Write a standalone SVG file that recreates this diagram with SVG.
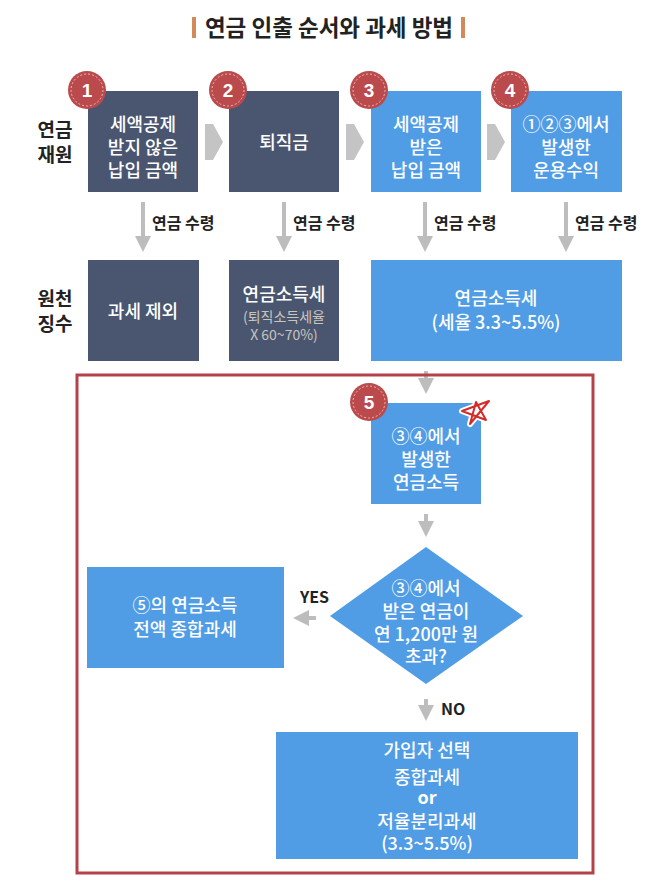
<svg xmlns="http://www.w3.org/2000/svg" width="658" height="883" viewBox="0 0 658 883">
<defs>
<style>
text{font-family:"Noto Sans CJK KR","Noto Sans",sans-serif;}
.dark{fill:#4a5670;}
.blue{fill:#509de5;}
.bt{fill:#ffffff;font-size:18px;font-weight:500;text-anchor:middle;}
.lbl{fill:#222;font-size:19px;font-weight:bold;text-anchor:middle;}
.small{fill:#222;font-size:16px;font-weight:bold;}
.conn{stroke:#bdbdbd;stroke-width:4;fill:none;}
.badge{fill:#bb4a4c;}
.bin{fill:none;stroke:#e9b7b7;stroke-width:1;stroke-dasharray:2 2;}
.bn{fill:#fff;font-size:19px;font-weight:bold;text-anchor:middle;font-family:"Liberation Sans",sans-serif;}
</style>
<marker id="ah" markerWidth="4" markerHeight="4" refX="2" refY="2" orient="auto" markerUnits="strokeWidth"><path d="M0,0 L4,2 L0,4 Z" fill="#bdbdbd"/></marker>
</defs>
<rect width="658" height="883" fill="#fff"/>
<g id="title">
<rect x="192" y="17" width="4" height="21" fill="#d08a5c"/>
<rect x="461" y="17" width="4" height="21" fill="#d08a5c"/>
<text x="329" y="36" text-anchor="middle" font-size="22.5" font-weight="bold" fill="#222">연금 인출 순서와 과세 방법</text>
</g>
<g id="rowlabels">
<text class="lbl" x="55" y="137">연금</text>
<text class="lbl" x="55" y="162">재원</text>
<text class="lbl" x="55" y="306">원천</text>
<text class="lbl" x="55" y="331">징수</text>
</g>
<g id="connectors">
<path d="M205,124 H213 L223,142 L213,160 H205 Z" fill="#c4c4c4"/>
<path d="M346,124 H354 L364,142 L354,160 H346 Z" fill="#c4c4c4"/>
<path d="M487,124 H495 L505,142 L495,160 H487 Z" fill="#c4c4c4"/>
<line class="conn" x1="143" y1="202" x2="143" y2="244" marker-end="url(#ah)"/>
<line class="conn" x1="284" y1="202" x2="284" y2="244" marker-end="url(#ah)"/>
<line class="conn" x1="425" y1="202" x2="425" y2="244" marker-end="url(#ah)"/>
<line class="conn" x1="566" y1="202" x2="566" y2="244" marker-end="url(#ah)"/>
<text class="small" x="152" y="229">연금 수령</text>
<text class="small" x="293" y="229">연금 수령</text>
<text class="small" x="434" y="229">연금 수령</text>
<text class="small" x="575" y="229">연금 수령</text>
<line class="conn" x1="426" y1="371" x2="426" y2="386" marker-end="url(#ah)"/>
<line class="conn" x1="426" y1="514" x2="426" y2="529" marker-end="url(#ah)"/>
<line class="conn" x1="316" y1="618" x2="301" y2="618" marker-end="url(#ah)"/>
<text x="300" y="603" font-size="16" font-weight="bold" fill="#222" font-family="Liberation Sans,sans-serif">YES</text>
<line class="conn" x1="426" y1="699" x2="426" y2="713" marker-end="url(#ah)"/>
<text x="441" y="715" font-size="16" font-weight="bold" fill="#222" font-family="Liberation Sans,sans-serif">NO</text>
</g>
<g id="frame">
<rect x="77" y="375" width="516" height="498" fill="none" stroke="#b5424a" stroke-width="3"/>
</g>
<g id="n1">
<rect class="dark" x="88" y="91" width="110" height="101"/>
<text class="bt" x="143" y="131">세액공제</text>
<text class="bt" x="143" y="154">받지 않은</text>
<text class="bt" x="143" y="177">납입 금액</text>
<circle class="badge" cx="87" cy="90" r="19"/><circle class="bin" cx="87" cy="90" r="16"/>
<text class="bn" x="87" y="97">1</text>
</g>
<g id="n2">
<rect class="dark" x="229" y="91" width="110" height="101"/>
<text class="bt" x="284" y="149">퇴직금</text>
<circle class="badge" cx="228" cy="90" r="19"/><circle class="bin" cx="228" cy="90" r="16"/>
<text class="bn" x="228" y="97">2</text>
</g>
<g id="n3">
<rect class="blue" x="371" y="91" width="110" height="101"/>
<text class="bt" x="426" y="131">세액공제</text>
<text class="bt" x="426" y="154">받은</text>
<text class="bt" x="426" y="177">납입 금액</text>
<circle class="badge" cx="369" cy="90" r="19"/><circle class="bin" cx="369" cy="90" r="16"/>
<text class="bn" x="369" y="97">3</text>
</g>
<g id="n4">
<rect class="blue" x="511" y="91" width="111" height="101"/>
<text class="bt" x="566" y="131">①②③에서</text>
<text class="bt" x="566" y="154">발생한</text>
<text class="bt" x="566" y="177">운용수익</text>
<circle class="badge" cx="510" cy="90" r="19"/><circle class="bin" cx="510" cy="90" r="16"/>
<text class="bn" x="510" y="97">4</text>
</g>
<g id="t1">
<rect class="dark" x="88" y="260" width="111" height="101"/>
<text class="bt" x="143" y="318">과세 제외</text>
</g>
<g id="t2">
<rect class="dark" x="229" y="260" width="110" height="101"/>
<text class="bt" x="284" y="301">연금소득세</text>
<text x="284" y="322" text-anchor="middle" font-size="14" fill="#c9c4bd">(퇴직소득세율</text>
<text x="284" y="340" text-anchor="middle" font-size="14" fill="#c9c4bd">X 60~70%)</text>
</g>
<g id="t3">
<rect class="blue" x="371" y="260" width="251" height="101"/>
<text class="bt" x="496" y="305">연금소득세</text>
<text class="bt" x="496" y="329">(세율 3.3~5.5%)</text>
</g>
<g id="n5">
<rect class="blue" x="371" y="403" width="110" height="101"/>
<text class="bt" x="426" y="443">③④에서</text>
<text class="bt" x="426" y="466">발생한</text>
<text class="bt" x="426" y="489">연금소득</text>
<circle class="badge" cx="369" cy="402" r="19"/><circle class="bin" cx="369" cy="402" r="16"/>
<text class="bn" x="369" y="409">5</text>
<g id="star" fill="none" stroke-linejoin="round" stroke-linecap="round">
<path d="M462,411 L489,401 L470,424 L476,402 L486,420 Z" stroke="#fff" stroke-width="6"/>
<path d="M462,411 L489,401 L470,424 L476,402 L486,420 Z" stroke="#d42a2a" stroke-width="2"/>
</g>
</g>
<g id="decision">
<polygon class="blue" points="426,547 523,616 426,684 330,616"/>
<text class="bt" x="426" y="595">③④에서</text>
<text class="bt" x="426" y="618">받은 연금이</text>
<text class="bt" x="426" y="641">연 1,200만 원</text>
<text class="bt" x="426" y="663">초과?</text>
</g>
<g id="yes">
<rect class="blue" x="87" y="567" width="197" height="101"/>
<text class="bt" x="185" y="612">⑤의 연금소득</text>
<text class="bt" x="185" y="636">전액 종합과세</text>
</g>
<g id="no">
<rect class="blue" x="276" y="732" width="302" height="127"/>
<text class="bt" x="427" y="757">가입자 선택</text>
<text class="bt" x="427" y="784">종합과세</text>
<text x="427" y="804" text-anchor="middle" font-size="18" font-weight="bold" fill="#fff" font-family="Liberation Sans,sans-serif">or</text>
<text class="bt" x="427" y="828">저율분리과세</text>
<text class="bt" x="427" y="850">(3.3~5.5%)</text>
</g>
</svg>
